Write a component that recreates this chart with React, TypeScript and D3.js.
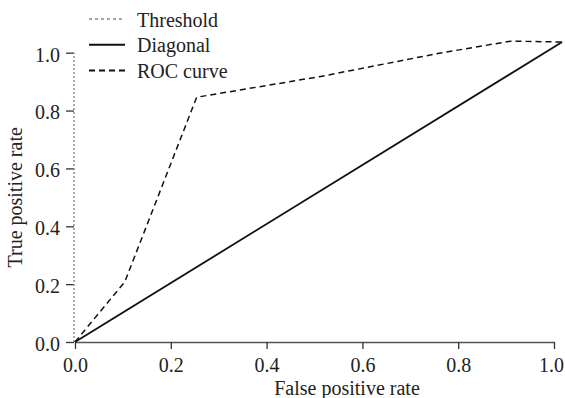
import React, { useRef, useEffect } from 'react';
import * as d3 from 'd3';

// ROC data
const rocFpr = [0, 0.104, 0.254, 0.51, 0.76, 0.91, 1.017];
const rocTpr = [0, 0.208, 0.846, 0.917, 0.998, 1.04, 1.037];
const diagFpr = [0, 1.017];
const diagTpr = [0, 1.037];
const thresholdFpr = [0, 0];
const thresholdTpr = [0, 1];
const tickValues = [0, 0.2, 0.4, 0.6, 0.8, 1.0];
const legendLabels = ['Threshold', 'Diagonal', 'ROC curve'];

const W = 565;
const H = 398;
const FONT = 'Liberation Serif, DejaVu Serif, serif';

const App: React.FC = () => {
  const svgRef = useRef<SVGSVGElement>(null);

  useEffect(() => {
    if (!svgRef.current) return;
    const svg = d3.select(svgRef.current);
    svg.selectAll('*').remove();

    const x = d3.scaleLinear().domain([0, 1]).range([75, 554]);
    const y = d3.scaleLinear().domain([0, 1]).range([342, 52.7]);

    const line = d3.line<[number, number]>()
      .x(d => x(d[0]))
      .y(d => y(d[1]));

    const zip = (a: number[], b: number[]) => a.map((v, i) => [v, b[i]] as [number, number]);

    // x axis
    const gx = svg.append('g')
      .attr('transform', `translate(0,${y(0)})`)
      .call(d3.axisBottom(x).tickValues(tickValues).tickFormat(d3.format('.1f')).tickSize(7).tickSizeOuter(0).tickPadding(9));
    gx.select('.domain').attr('stroke', '#555').attr('stroke-width', 1.6);
    gx.selectAll('.tick line').attr('stroke', '#333').attr('stroke-width', 1.3);
    gx.selectAll('.tick text')
      .style('font-family', FONT).style('font-size', '20px').attr('fill', '#222');
    gx.selectAll<SVGTextElement, number>('.tick text')
      .filter(d => d === 1)
      .attr('dx', -3);

    // y axis (its line is the threshold trace)
    const gy = svg.append('g')
      .attr('transform', `translate(${x(0) - 1},0)`)
      .call(d3.axisLeft(y).tickValues(tickValues).tickFormat(d3.format('.1f')).tickSize(8).tickSizeOuter(0).tickPadding(6));
    gy.select('.domain').remove();
    gy.selectAll('.tick line').attr('stroke', '#333').attr('stroke-width', 1.3);
    gy.selectAll('.tick text')
      .attr('dy', '0.42em')
      .style('font-family', FONT).style('font-size', '20px').attr('fill', '#222');

    // series
    svg.append('path')
      .attr('d', line(zip(thresholdFpr, thresholdTpr)))
      .attr('transform', 'translate(-1,0)')
      .attr('fill', 'none').attr('stroke', '#888').attr('stroke-width', 1.4)
      .attr('stroke-dasharray', '2,2');

    svg.append('path')
      .attr('d', line(zip(diagFpr, diagTpr)))
      .attr('fill', 'none').attr('stroke', '#111').attr('stroke-width', 1.8);

    svg.append('path')
      .attr('d', line(zip(rocFpr, rocTpr)))
      .attr('fill', 'none').attr('stroke', '#111').attr('stroke-width', 1.5)
      .attr('stroke-dasharray', '6,4');

    // axis titles
    svg.append('text')
      .attr('x', 347).attr('y', 395)
      .attr('text-anchor', 'middle')
      .style('font-family', FONT).style('font-size', '20px').attr('fill', '#222')
      .text('False positive rate');

    svg.append('text')
      .attr('transform', `translate(22,${(y(0) + y(1)) / 2}) rotate(-90)`)
      .attr('text-anchor', 'middle')
      .style('font-family', FONT).style('font-size', '20px').attr('fill', '#222')
      .text('True positive rate');

    // legend
    const styles = [
      { stroke: '#888', dash: '3,3', width: 1.3 },
      { stroke: '#111', dash: null, width: 1.8 },
      { stroke: '#111', dash: '6,4', width: 2 }
    ];
    const legendY = d3.scalePoint<string>().domain(legendLabels).range([19, 70.5]);
    const lg = svg.append('g');
    legendLabels.forEach((label, i) => {
      const ly = legendY(label) as number;
      const s = styles[i];
      lg.append('line')
        .attr('x1', 89).attr('x2', 125).attr('y1', ly).attr('y2', ly)
        .attr('stroke', s.stroke).attr('stroke-width', s.width)
        .attr('stroke-dasharray', s.dash);
      lg.append('text')
        .attr('x', 137).attr('y', ly + 7.5)
        .style('font-family', FONT).style('font-size', '20px').attr('fill', '#222')
        .text(label);
    });
  }, []);

  return (
    <svg
      ref={svgRef}
      width={W}
      height={H}
      style={{ position: 'fixed', left: 0, top: 0, background: '#fff' }}
    />
  );
};

export default App;
